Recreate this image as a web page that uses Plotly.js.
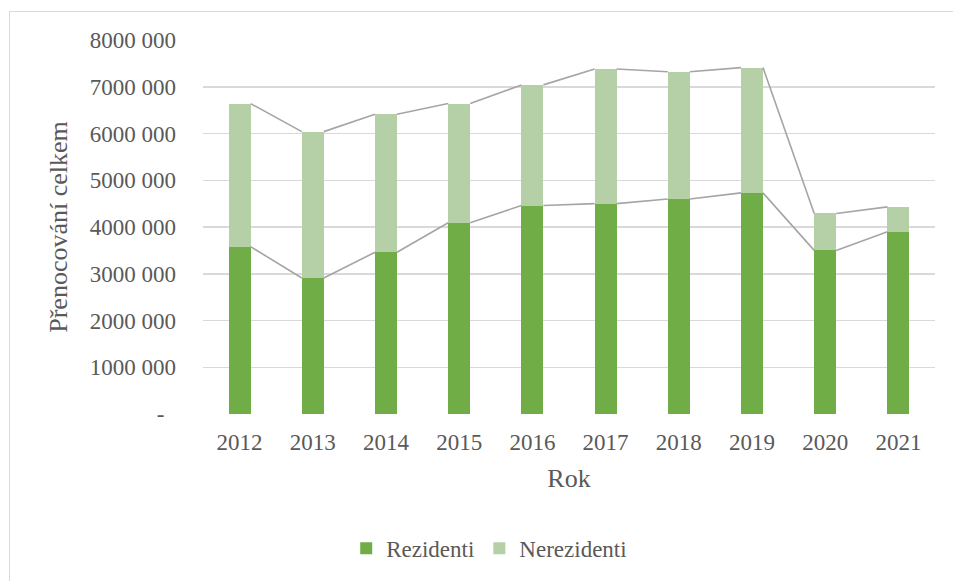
<!DOCTYPE html>
<html>
<head>
<meta charset="utf-8">
<script src="https://cdn.plot.ly/plotly-3.0.1.min.js"></script>
<style>
html,body{margin:0;padding:0;background:#fff;}
#wrap{position:relative;width:953px;height:581px;overflow:hidden;}
#chart{position:absolute;left:0;top:0;width:953px;height:581px;}
#frame{position:absolute;left:9px;top:11px;width:1000px;height:700px;border-left:1.5px solid #d9d9d9;border-top:1.5px solid #d9d9d9;pointer-events:none;}
</style>
</head>
<body>
<div id="wrap"><div id="chart"></div><div id="frame"></div></div>
<script>
const years = ["2012","2013","2014","2015","2016","2017","2018","2019","2020","2021"];
const rezidenti = [3580000, 2910000, 3460000, 4090000, 4460000, 4500000, 4600000, 4730000, 3500000, 3900000];
const nerezidenti = [3060000, 3130000, 2950000, 2550000, 2580000, 2880000, 2720000, 2680000, 790000, 530000];
const yTickVals = [0, 1000000, 2000000, 3000000, 4000000, 5000000, 6000000, 7000000, 8000000];
const yTickText = ["-\u00a0\u00a0", "1000 000", "2000 000", "3000 000", "4000 000", "5000 000", "6000 000", "7000 000", "8000 000"];

const idx = years.map((_, i) => i);
const barW = 0.3;
const totals = rezidenti.map((v, i) => v + nerezidenti[i]);

function seriesLine(vals) {
  const xs = [], ys = [];
  for (let i = 0; i < vals.length - 1; i++) {
    xs.push(i + barW / 2, i + 1 - barW / 2, null);
    ys.push(vals[i], vals[i + 1], null);
  }
  return {x: xs, y: ys, type: 'scatter', mode: 'lines', showlegend: false,
          hoverinfo: 'skip', line: {color: '#A5A5A5', width: 1.6}};
}

const textColor = '#595959';
const font = 'Liberation Serif, Times New Roman, serif';

const data = [
  {x: idx, y: rezidenti, type: 'bar', name: 'Rezidenti', width: barW,
   marker: {color: '#70AD47'}},
  {x: idx, y: nerezidenti, type: 'bar', name: 'Nerezidenti', width: barW,
   marker: {color: '#B5D0A6'}},
  seriesLine(rezidenti),
  seriesLine(totals)
];

const layout = {
  width: 953, height: 581,
  margin: {l: 203, r: 18, t: 40, b: 165.5},
  paper_bgcolor: '#fff', plot_bgcolor: '#fff',
  barmode: 'stack',
  font: {family: font, color: textColor, size: 23},
  xaxis: {
    type: 'linear', range: [-0.5, 9.5],
    tickvals: idx, ticktext: years,
    showgrid: false, zeroline: false, showline: false, ticks: '',
    tickfont: {size: 23, color: textColor, family: font},
    ticklabelstandoff: 12,
    title: {text: 'Rok', font: {size: 26, color: textColor, family: font}, standoff: 14}
  },
  yaxis: {
    range: [0, 8000000],
    tickvals: yTickVals, ticktext: yTickText,
    showgrid: true, gridcolor: '#D9D9D9', gridwidth: 1.5,
    zeroline: false, showline: false, ticks: '',
    tickfont: {size: 23, color: textColor, family: font},
    ticklabelstandoff: 26,
    title: {text: 'Přenocování celkem', font: {size: 26, color: textColor, family: font}, standoff: 14}
  },
  legend: {
    orientation: 'h', x: 0.391, xanchor: 'center', y: -0.3555, yanchor: 'middle',
    font: {size: 23, color: textColor, family: font},
    traceorder: 'normal', itemwidth: 30
  },
  showlegend: true
};

Plotly.newPlot('chart', data, layout, {displayModeBar: false, staticPlot: true});
</script>
</body>
</html>
